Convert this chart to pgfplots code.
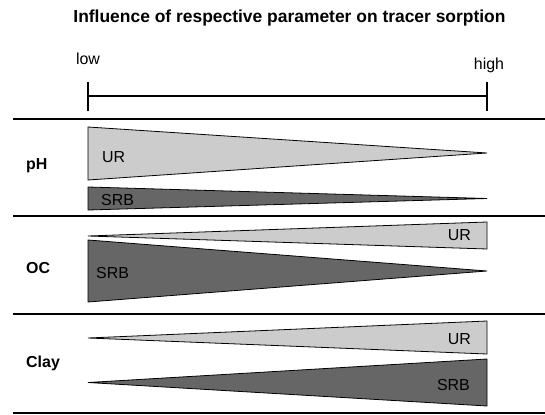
\documentclass[border=0pt]{standalone}
\usepackage{pgfplots}
\pgfplotsset{compat=1.18}
\usepackage{fontspec}
\setmainfont{Liberation Sans}
\definecolor{urgray}{RGB}{204,204,204}
\definecolor{srbgray}{RGB}{102,102,102}
\tikzset{lbl/.style={font=\fontsize{16}{18}\selectfont, inner sep=0pt},
         rowlbl/.style={font=\fontsize{16}{18}\selectfont\bfseries, inner sep=0pt, anchor=west}}

\begin{document}
\begin{tikzpicture}
\begin{axis}[
  scale only axis, width=545bp, height=415bp,
  xmin=0, xmax=545, ymin=0, ymax=415, y dir=reverse,
  hide axis, clip=false
]
% separators
\addplot[black, line width=1.8pt] coordinates {(13,119) (545,119)};
\addplot[black, line width=1.8pt] coordinates {(13,216) (545,216)};
\addplot[black, line width=1.8pt] coordinates {(13,314) (545,314)};
\addplot[black, line width=1.8pt] coordinates {(13,413) (545,413)};
% low-high scale
\addplot[black, line width=1.6pt] coordinates {(88,96) (487,96)};
\addplot[black, line width=1.6pt] coordinates {(88,82) (88,111)};
\addplot[black, line width=1.6pt] coordinates {(487,82) (487,111)};
% pH
\addplot[fill=urgray, draw=black, line width=0.8pt] coordinates {(88,127) (88,180) (487,153)} -- cycle;
\addplot[fill=srbgray, draw=black, line width=0.8pt] coordinates {(88,187) (88,210) (487,198.5)} -- cycle;
% OC
\addplot[fill=urgray, draw=black, line width=0.8pt] coordinates {(88,236) (487,222) (487,249)} -- cycle;
\addplot[fill=srbgray, draw=black, line width=0.8pt] coordinates {(88,240) (88,302) (487,271)} -- cycle;
% Clay
\addplot[fill=urgray, draw=black, line width=0.8pt] coordinates {(88,338) (487,321) (487,354)} -- cycle;
\addplot[fill=srbgray, draw=black, line width=0.8pt] coordinates {(88,382.5) (487,359) (487,406)} -- cycle;

\node[font=\fontsize{17.5}{20}\selectfont\bfseries, inner sep=0pt] at (axis cs:289.5,18) {Influence of respective parameter on tracer sorption};
\node[lbl] at (axis cs:88,59) {low};
\node[lbl] at (axis cs:489,65) {high};
\node[rowlbl] at (axis cs:26,166) {pH};
\node[rowlbl] at (axis cs:26,268) {OC};
\node[rowlbl] at (axis cs:26,363) {Clay};
\node[lbl, anchor=west] at (axis cs:102,157) {UR};
\node[lbl, anchor=west] at (axis cs:101,200) {SRB};
\node[lbl, anchor=east] at (axis cs:471,235) {UR};
\node[lbl, anchor=west] at (axis cs:96,273) {SRB};
\node[lbl, anchor=east] at (axis cs:471,339) {UR};
\node[lbl, anchor=east] at (axis cs:470,385) {SRB};

\coordinate (sw) at (axis cs:0,415);
\coordinate (ne) at (axis cs:545,0);
\end{axis}
\pgfresetboundingbox
\path (sw) rectangle (ne);
\end{tikzpicture}
\end{document}
